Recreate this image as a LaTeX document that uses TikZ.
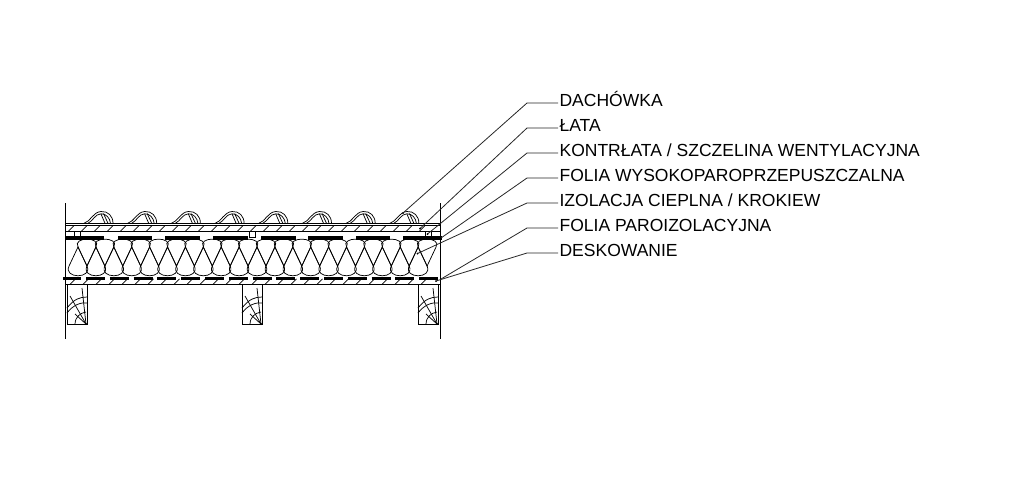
\documentclass[tikz,border=0pt]{standalone}
\usepackage{fontspec}
\setmainfont{Liberation Sans}
\begin{document}
\begin{tikzpicture}[
  x=0.75pt,
  y=-0.75pt,
  cienka/.style={line width=0.55pt},
  folia/.style={line width=2.6pt},
  opis/.style={
    anchor=west,
    inner sep=1pt,
    text height=9pt,
    text depth=3.6pt,
    font=\fontsize{13.13}{13.13}\selectfont
  },
  wskaz/.style={line width=0.6pt,black!85}
]
\useasboundingbox (0,0) rectangle (1024,480);
% walls
\draw[cienka] (65,203) -- (65,339);
\draw[cienka] (440,203) -- (440,339);
% layers
\draw[cienka] (65,223.3) -- (440,223.3);
\draw[cienka] (65,225.7) -- (440,225.7);
\draw[cienka] (65,231.7) -- (440,231.7);
\draw[cienka] (65,284.3) -- (440,284.3);
\foreach \x in {68,81,...,430}
   \draw[cienka] (\x,231.7) -- (\x+6,225.7);
\foreach \x in {70,83,...,430}
   \draw[cienka] (\x,284.3) -- (\x+5.5,278.8);
% tiles
\foreach \x in {101,144.7,188.4,232.1,275.8,319.5,363.2,406.9} {
   \draw[cienka] (\x-17,223.3) .. controls (\x-11,222) and (\x-8,212) .. (\x,211.5)
      .. controls (\x+7,211) and (\x+12,216) .. (\x+12,223.3);
   \draw[cienka] (\x-13,223.3) .. controls (\x-8,221) and (\x-6,214) .. (\x,213.8)
      .. controls (\x+5,213.5) and (\x+9,218) .. (\x+9.5,223.3);
   \draw[cienka] (\x,214) -- (\x+4,223.3);
   \draw[cienka] (\x+2.5,213.5) -- (\x+7,223.3);
}
% battens
\foreach \x in {74,249,425}
   \draw[cienka] (\x,231.7) rectangle (\x+6,237.5);
% foils
\foreach \x/\w in {65/39,118/34,165/35,213/35,261/35,308/35,356/34,403/39}
   \draw[folia] (\x,238) -- (\x+\w,238);
\draw[folia] (63,278.3) -- (81,278.3);
\foreach \k in {0,...,14}
   \draw[folia] (86+23.8*\k,278.3) -- (105+23.8*\k,278.3);
% insulation
\foreach \k in {0,...,19} {
   \pgfmathsetmacro{\gora}{87+17.9*\k}
   \pgfmathsetmacro{\dol}{78+17.9*\k}
   \draw[cienka] (\gora,266) -- (\gora-8.95,247)
      .. controls (\gora-15,236.5) and (\gora+15,236.5) .. (\gora+8.95,247) -- cycle;
   \draw[cienka] (\dol,247) -- (\dol-8.95,266)
      .. controls (\dol-15,279) and (\dol+15,279) .. (\dol+8.95,266) -- cycle;
}
% rafters
\foreach \x in {67,242,418} {
   \draw[cienka] (\x,284.3) rectangle (\x+20,324.5);
   \draw[cienka] (\x+8,324.5) .. controls (\x+8,317) and (\x+13,313) .. (\x+19,312);
   \draw[cienka] (\x,308) .. controls (\x+7,299) and (\x+13,297) .. (\x+20,297);
   \draw[cienka] (\x,313) .. controls (\x+6,305) and (\x+14,302) .. (\x+20,303);
   \draw[cienka] (\x+19,324) -- (\x+3,296);
   \draw[cienka] (\x+19,324) -- (\x+8,314);
   \draw[cienka] (\x+19,324) -- (\x+15,288);
   \fill (\x+19,324) circle (1.2);
}
% labels
\node[opis] (dachowka) at (558,103) {DACHÓWKA};
\node[opis] (lata) at (558,128) {ŁATA};
\node[opis] (kontrlata) at (558,153) {KONTRŁATA / SZCZELINA WENTYLACYJNA};
\node[opis] (foliaw) at (558,178) {FOLIA WYSOKOPAROPRZEPUSZCZALNA};
\node[opis] (izolacja) at (558,203) {IZOLACJA CIEPLNA / KROKIEW};
\node[opis] (foliap) at (558,228) {FOLIA PAROIZOLACYJNA};
\node[opis] (deski) at (558,253) {DESKOWANIE};
% leaders
\coordinate (kolano) at (527,0);
\coordinate (pDachowka) at (403,213);
\coordinate (pLata) at (420,228.5);
\coordinate (pKontrlata) at (427.5,234);
\coordinate (pFoliaw) at (441,238);
\coordinate (pIzolacja) at (417.5,253.5);
\coordinate (pFoliap) at (441,279);
\coordinate (pDeski) at (436,281);
\draw[wskaz] (dachowka.west) -- (dachowka.west -| kolano) -- (pDachowka);
\draw[wskaz] (lata.west) -- (lata.west -| kolano) -- (pLata);
\draw[wskaz] (kontrlata.west) -- (kontrlata.west -| kolano) -- (pKontrlata);
\draw[wskaz] (foliaw.west) -- (foliaw.west -| kolano) -- (pFoliaw);
\draw[wskaz] (izolacja.west) -- (izolacja.west -| kolano) -- (pIzolacja);
\draw[wskaz] (foliap.west) -- (foliap.west -| kolano) -- (pFoliap);
\draw[wskaz] (deski.west) -- (deski.west -| kolano) -- (pDeski);
\foreach \p in {pDachowka,pLata,pKontrlata,pIzolacja,pDeski}
   \fill (\p) circle (1);
\end{tikzpicture}
\end{document}
